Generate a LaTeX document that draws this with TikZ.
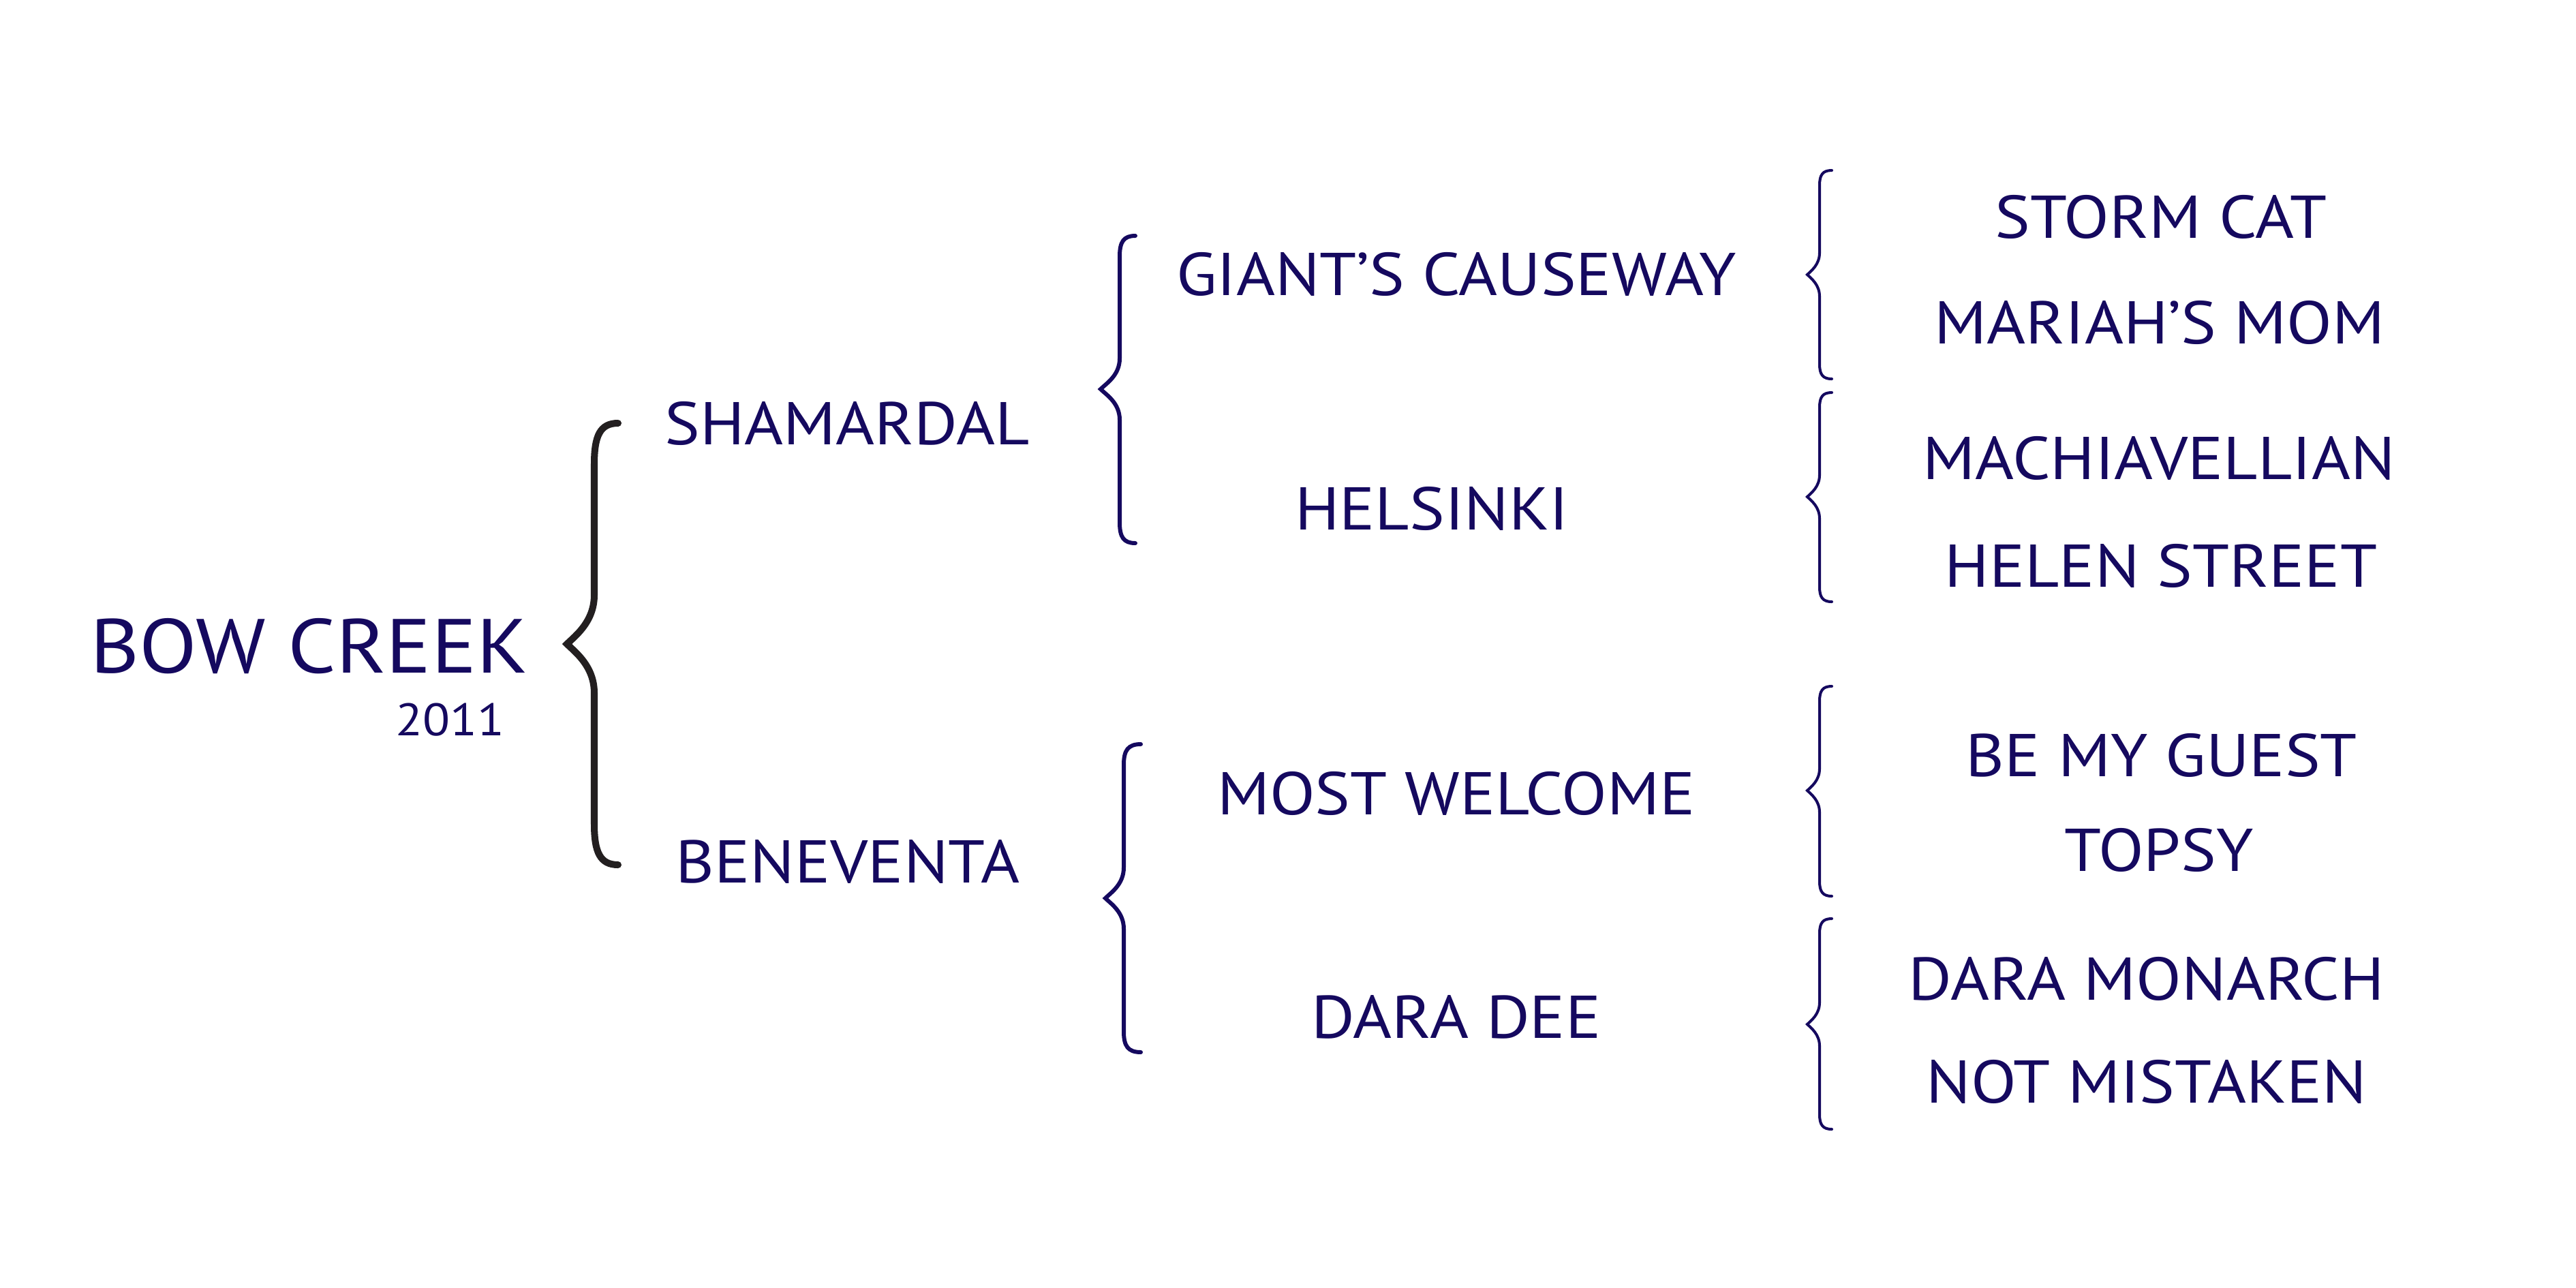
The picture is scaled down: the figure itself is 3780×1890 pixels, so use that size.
\documentclass[tikz,border=0pt]{standalone}
\usepackage{fontspec}
\setmainfont[FakeStretch=1.1]{PT Sans}
\definecolor{navy}{HTML}{15095F}
\definecolor{ink}{HTML}{231F20}
% #1 style, #2 x end, #3 x vertical, #4 x tip, #5 y top, #6 y mid, #7 y bottom, #8 end bend, #9 tip bend
\newcommand\drawbrace[9]{%
  \draw[#1] (#2,#5)
    .. controls ({#3+0.25*(#2-#3)},#5) and (#3,{#5+0.3*#8}) .. (#3,{#5+#8})
    -- (#3,{#6-#9})
    .. controls (#3,{#6-0.45*#9}) and ({#4+0.3*(#3-#4)},{#6-0.3*(#3-#4)}) .. (#4,#6)
    .. controls ({#4+0.3*(#3-#4)},{#6+0.3*(#3-#4)}) and (#3,{#6+0.45*#9}) .. (#3,{#6+#9})
    -- (#3,{#7-#8})
    .. controls (#3,{#7-0.3*#8}) and ({#3+0.25*(#2-#3)},#7) .. (#2,#7);}
\tikzset{
  horse/.style={text=navy, inner sep=0pt, anchor=base, font=\fontsize{25.2pt}{30pt}\selectfont},
  rootname/.style={horse, anchor=base west, font=\fontsize{32pt}{38pt}\selectfont},
  yearname/.style={horse, anchor=base east, font=\fontsize{19pt}{23pt}\selectfont},
  bigbrace/.style={draw=ink, line width=2.85pt, line cap=round, line join=miter},
  midbrace/.style={draw=navy, line width=1.7pt, line cap=round, line join=miter},
  smallbrace/.style={draw=navy, line width=1.15pt, line cap=round, line join=miter}
}
\begin{document}
\begin{tikzpicture}[x=0.01cm, y=-0.01cm]
\useasboundingbox[fill=white] (0,0) rectangle (3780,1890);
% generation 0
\node[rootname] (bow) at (132,987) {BOW CREEK};
\node[yearname] (year) at (741,1079) {2011};
% generation 1
\node[horse] (sham) at (1243,652) {SHAMARDAL};
\node[horse] (bene) at (1244,1295) {BENEVENTA};
% generation 2
\node[horse] (giant) at (2137,433) {GIANT’S CAUSEWAY};
\node[horse] (hels) at (2101,777) {HELSINKI};
\node[horse] (most) at (2137,1195) {MOST WELCOME};
\node[horse] (dara) at (2137,1523) {DARA DEE};
% generation 3
\node[horse] (storm) at (3171,349) {STORM CAT};
\node[horse] (mariah) at (3169,504) {MARIAH’S MOM};
\node[horse] (machi) at (3168,703) {MACHIAVELLIAN};
\node[horse] (helen) at (3171,861) {HELEN STREET};
\node[horse] (guest) at (3172,1139) {BE MY GUEST};
\node[horse] (topsy) at (3168,1278) {TOPSY};
\node[horse] (monarch) at (3150,1467) {DARA MONARCH};
\node[horse] (mistaken) at (3150,1618) {NOT MISTAKEN};
% braces
\drawbrace{bigbrace}{907}{872}{832}{621}{945}{1269}{60}{72}
\drawbrace{midbrace}{1666}{1643}{1615}{346}{571}{797}{30}{45}
\drawbrace{midbrace}{1674}{1649}{1622}{1092}{1318}{1544}{30}{45}
\drawbrace{smallbrace}{2688}{2670}{2652}{250}{403}{556}{22}{32}
\drawbrace{smallbrace}{2688}{2670}{2652}{576}{729}{883}{22}{32}
\drawbrace{smallbrace}{2688}{2670}{2652}{1007}{1160}{1315}{22}{32}
\drawbrace{smallbrace}{2688}{2670}{2652}{1348}{1503}{1657}{22}{32}
\end{tikzpicture}
\end{document}
